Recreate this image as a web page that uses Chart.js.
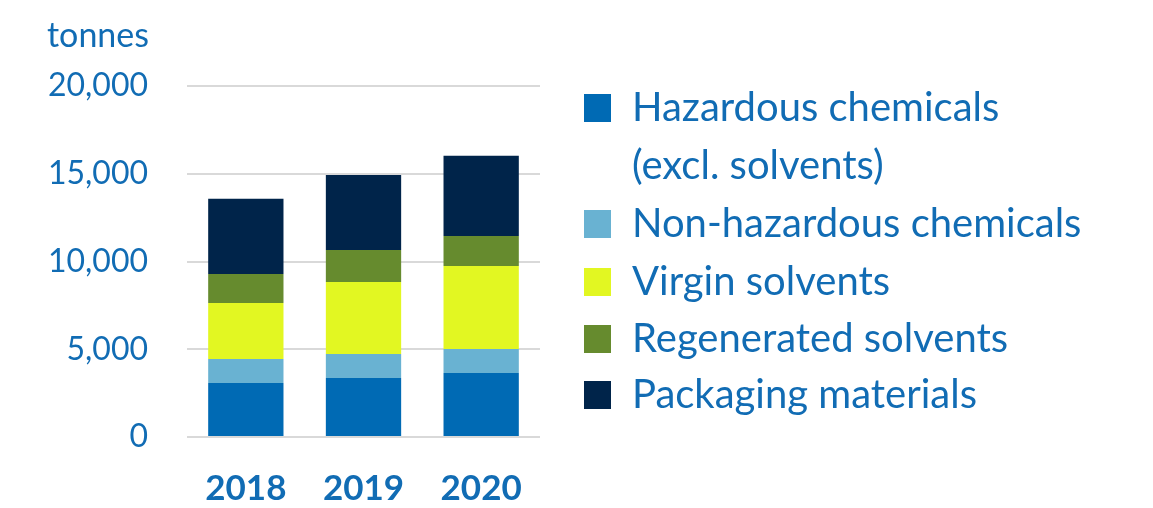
<!DOCTYPE html>
<html>
<head>
<meta charset="utf-8">
<script src="https://cdn.jsdelivr.net/npm/chart.js@4.4.1/dist/chart.umd.min.js"></script>
<style>
html,body{margin:0;padding:0;background:#fff;}
#wrap{position:relative;width:1153px;height:508px;}
</style>
</head>
<body>
<div id="wrap"><canvas id="c" width="1153" height="508"></canvas></div>
<script>
const years = ['2018', '2019', '2020'];
const hazardous = [3080, 3360, 3650];
const nonHazardous = [1370, 1370, 1370];
const virgin = [3190, 4100, 4730];
const regenerated = [1650, 1820, 1710];
const packaging = [4280, 4280, 4560];
const seriesNames = [['Hazardous chemicals', '(excl. solvents)'], ['Non-hazardous chemicals'], ['Virgin solvents'], ['Regenerated solvents'], ['Packaging materials']];
const seriesColors = ['#006ab4', '#69b2d2', '#e2f722', '#668b2e', '#00244a'];
const yTicks = [0, 5000, 10000, 15000, 20000];
const unitLabel = 'tonnes';

const TEXT = '#116cb4';
const seriesData = [hazardous, nonHazardous, virgin, regenerated, packaging];

const legendPlugin = {
  id: 'customLegend',
  afterDraw(chart) {
    const ctx = chart.ctx;
    ctx.save();
    ctx.font = '34px Lato';
    ctx.fillStyle = TEXT;
    ctx.textAlign = 'left';
    ctx.textBaseline = 'middle';
    ctx.fillText(unitLabel, 47, 36);
    const rowY = [108, 224, 282, 339, 395];
    ctx.font = '40px Lato';
    seriesNames.forEach((lines, i) => {
      ctx.fillStyle = seriesColors[i];
      ctx.fillRect(584, rowY[i] - 14, 27, 28);
      ctx.fillStyle = TEXT;
      lines.forEach((t, j) => ctx.fillText(t, 632, rowY[i] + j * 58));
    });
    ctx.restore();
  }
};

new Chart(document.getElementById('c'), {
  type: 'bar',
  data: {
    labels: years,
    datasets: seriesData.map((d, i) => ({
      label: seriesNames[i].join(' '),
      data: d,
      backgroundColor: seriesColors[i],
      borderWidth: 0,
      categoryPercentage: 1,
      barPercentage: 0.64
    }))
  },
  options: {
    responsive: false,
    animation: false,
    events: [],
    layout: { padding: { top: 86, right: 613, left: 0, bottom: 0 } },
    plugins: { legend: { display: false }, tooltip: { enabled: false } },
    scales: {
      x: {
        stacked: true,
        grid: { display: false, drawTicks: false },
        border: { display: false },
        ticks: { color: TEXT, font: { family: 'Lato', size: 35, weight: 'bold' }, padding: 31 },
        afterFit(s) { s.height = 71; }
      },
      y: {
        stacked: true,
        min: 0, max: 20000,
        afterBuildTicks(s) { s.ticks = yTicks.map(v => ({ value: v })); },
        grid: { color: '#d9d9d9', lineWidth: 2, drawTicks: false },
        border: { display: false },
        ticks: {
          color: TEXT,
          font: { family: 'Lato', size: 32 },
          padding: 39,
          callback: v => v.toLocaleString('en-US')
        },
        afterFit(s) { s.width = 187; }
      }
    }
  },
  plugins: [legendPlugin]
});
</script>
</body>
</html>
